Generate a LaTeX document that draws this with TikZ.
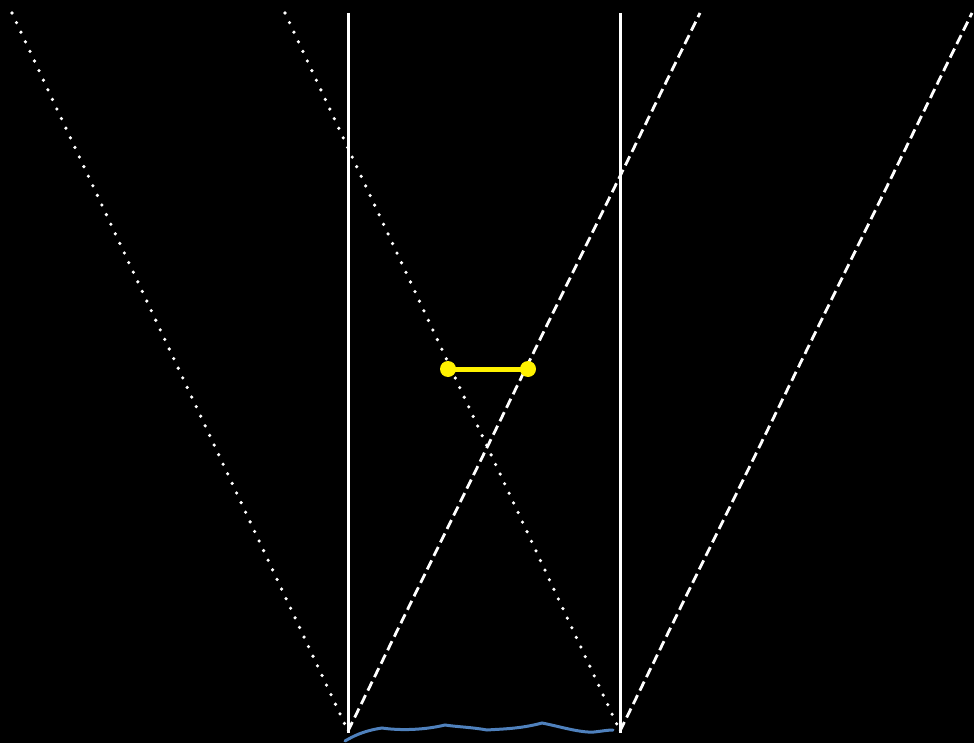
\documentclass[tikz,border=0pt]{standalone}
\begin{document}
\begin{tikzpicture}[x=1pt,y=-1pt,
  wall/.style={white,line width=3pt},
  dotline/.style={white,line width=3.6pt,line cap=round,dash pattern=on 0pt off 10.6pt},
  dashline/.style={white,line width=2.8pt,dash pattern=on 10pt off 5pt},
  rod/.style={yellow,line width=5pt},
  rodend/.style={circle,fill=yellow,inner sep=0pt,minimum size=16pt},
  wave/.style={color={rgb,255:red,79;green,129;blue,189},line width=3pt,line cap=round}]
\fill[black] (0,0) rectangle (974,743);
\useasboundingbox (0,0) rectangle (974,743);
% points
\coordinate (L1t) at (348,13);
\coordinate (L1b) at (348,733);
\coordinate (L2t) at (620,13);
\coordinate (L2b) at (620,733);
\coordinate (A) at (348,731);
\coordinate (B) at (620,731);
\coordinate (D1) at (12,13);
\coordinate (D2) at (285,13);
\coordinate (S1) at (700,13);
\coordinate (S2) at (972,13);
% walls
\draw[wall] (L1t) -- (L1b);
\draw[wall] (L2t) -- (L2b);
% dotted lines
\draw[dotline] (D1) -- (A);
\draw[dotline] (D2) -- (B);
% dashed lines
\draw[dashline] (A) -- (S1);
\draw[dashline] (B) -- (S2);
% yellow rod
\node[rodend] (R1) at (448,369) {};
\node[rodend] (R2) at (528,369) {};
\draw[rod] (R1.center) -- (R2.center);
% blue wave
\draw[wave] (345,741) .. controls (352,737) and (362,731) .. (382,728)
  .. controls (395,730) and (420,731) .. (445,725)
  .. controls (458,727) and (470,727) .. (487,730)
  .. controls (500,729) and (520,729) .. (542,723)
  .. controls (558,726) and (580,733) .. (594,732)
  .. controls (603,731) and (608,730) .. (613,730);
\end{tikzpicture}
\end{document}
